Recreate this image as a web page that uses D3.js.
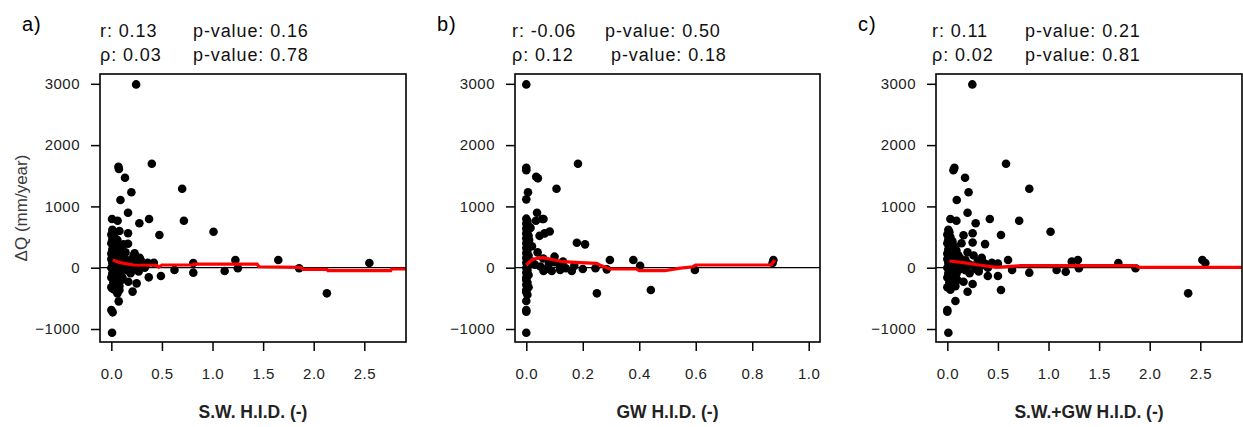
<!DOCTYPE html>
<html>
<head>
<meta charset="utf-8">
<script src="https://cdn.jsdelivr.net/npm/d3@7"></script>
<style>
body { margin: 0; background: #fff; }
svg { font-family: "Liberation Sans", Arial, sans-serif; }
.tick text { font-size: 15px; fill: #222; letter-spacing: 0.5px; }
</style>
</head>
<body>
<div class="chart"></div>
<script>
const dqTicks = [-1000, 0, 1000, 2000, 3000];
const swTicks = [0, 0.5, 1, 1.5, 2, 2.5];
const gwTicks = [0, 0.2, 0.4, 0.6, 0.8, 1];
const panelLabels = ['a)', 'b)', 'c)'];
const xTitles = ['S.W. H.I.D. (-)', 'GW H.I.D. (-)', 'S.W.+GW H.I.D. (-)'];
const statR = ['r: 0.13', 'r: -0.06', 'r: 0.11'];
const statRho = ['\u03c1: 0.03', '\u03c1: 0.12', '\u03c1: 0.02'];
const pvalR = ['p-value: 0.16', 'p-value: 0.50', 'p-value: 0.21'];
const pvalRho = ['p-value: 0.78', 'p-value: 0.18', 'p-value: 0.81'];
const yTitle = '\u0394Q (mm/year)';

// [H.I.D., dQ]
const pointsA = [
    [0.245, 2990], [0.40, 1697], [0.07, 1648], [0.075, 1610], [0.135, 1468], [0.198, 1230], [0.09, 1104],
    [0.70, 1289], [0.717, 767], [1.01, 587], [0.165, 897], [0.373, 794], [0.277, 724], [0.475, 533],
    [0.007, 794], [0.062, 767], [0.165, 561], [0.165, 392], [1.226, 126], [1.65, 126], [2.55, 77],
    [0.81, 77], [0.81, -81], [1.12, -54], [1.25, -10], [1.856, -10], [2.13, -418], [0.624, -38],
    [0.49, -135], [0.42, 82], [0.37, -157], [0.21, -390], [0.25, -255], [0.168, -228], [0.073, -549],
    [0.0, -690], [0.013, -728], [0.007, -1060], [0.08, -364], [0.01, -337],
    [0.01, 620], [0.02, 580], [0.0, 540], [0.03, 500], [0.01, 460], [0.05, 430], [0.0, 400], [0.02, 360],
    [0.04, 330], [0.01, 300], [0.03, 260], [0.0, 230], [0.05, 200], [0.02, 170], [0.0, 140], [0.04, 110],
    [0.01, 80], [0.06, 60], [0.03, 30], [0.0, 0], [0.05, -20], [0.02, -50], [0.01, -90], [0.04, -120],
    [0.0, -160], [0.03, -200], [0.02, -240], [0.05, -280], [0.0, -320], [0.03, -360], [0.08, -300],
    [0.1, -200], [0.09, -100], [0.12, -30], [0.08, 20], [0.1, 100], [0.13, 150], [0.11, 200], [0.09, 280],
    [0.07, 350], [0.06, 450], [0.08, 600], [0.15, 60], [0.18, 120], [0.2, 50], [0.22, 200], [0.25, 100],
    [0.28, 160], [0.3, 30], [0.16, -40], [0.19, -90], [0.24, -20], [0.27, -60], [0.33, 0], [0.36, 80],
    [0.14, 250], [0.12, 380], [0.23, 235], [0.29, 126], [0.06, -420], [0.11, -160]
];
const pointsB = [
    [0.0, 2990], [0.183, 1697], [0.0, 1630], [0.0, 1590], [0.035, 1485], [0.041, 1458], [0.006, 1230],
    [0.0, 1115], [0.107, 1289], [0.038, 897], [0.061, 794], [0.034, 767], [0.047, 520], [0.065, 560],
    [0.083, 590], [0.179, 408], [0.208, 381], [0.1, 180], [0.296, 126], [0.379, 126], [0.403, 33],
    [0.25, -418], [0.441, -364], [0.597, -38], [0.875, 126], [0.872, 77], [0.285, -27], [0.245, -10],
    [0.161, -54], [0.12, -38], [0.09, -54], [0.061, -54], [0.0, -1060], [0.0, -717], [0.0, -690],
    [0.0, -543], [0.0, -364], [0.0, -200],
    [0.0, 800], [0.004, 760], [0.0, 720], [0.008, 680], [0.0, 640], [0.004, 600], [0.0, 560], [0.008, 520],
    [0.0, 480], [0.004, 440], [0.0, 400], [0.008, 360], [0.0, 320], [0.004, 280], [0.0, 240], [0.008, 200],
    [0.0, 160], [0.004, 120], [0.0, 80], [0.008, 40], [0.0, 0], [0.004, -40], [0.0, -80], [0.008, -120],
    [0.0, -160], [0.004, -240], [0.0, -280], [0.008, -320], [0.0, -400], [0.004, -440],
    [0.02, 100], [0.03, 50], [0.05, 20], [0.07, -20], [0.08, 60], [0.12, 20], [0.14, -10], [0.06, 150],
    [0.04, 250], [0.02, 350], [0.01, 450], [0.015, 650], [0.17, 30], [0.2, -20], [0.1, 90], [0.13, 100],
    [0.057, 794]
];
const pointsC = [
    [0.247, 2990], [0.58, 1697], [0.07, 1630], [0.06, 1590], [0.175, 1468], [0.21, 1230], [0.093, 1104],
    [0.81, 1289], [0.71, 767], [1.02, 587], [0.2, 897], [0.42, 794], [0.03, 794], [0.09, 767], [0.28, 724],
    [0.53, 533], [0.25, 561], [0.16, 530], [0.25, 410], [0.373, 385], [0.14, 400], [0.6, 126], [1.23, 100],
    [1.29, 126], [1.69, 77], [2.52, 126], [2.55, 77], [2.38, -418], [0.53, -364], [0.25, -265], [0.2, -392],
    [0.16, -228], [0.08, -543], [0.0, -717], [0.0, -690], [0.01, -1060], [0.64, -38], [0.81, -81],
    [1.08, -38], [1.17, -65], [1.3, -10], [1.86, -10], [0.5, -135], [0.4, -135], [0.37, 66], [0.5, 66],
    [0.01, 620], [0.02, 580], [0.0, 540], [0.03, 500], [0.01, 460], [0.05, 430], [0.0, 400], [0.02, 360],
    [0.04, 330], [0.01, 300], [0.03, 260], [0.0, 230], [0.05, 200], [0.02, 170], [0.0, 140], [0.04, 110],
    [0.01, 80], [0.06, 60], [0.03, 30], [0.0, 0], [0.05, -20], [0.02, -50], [0.01, -90], [0.04, -120],
    [0.0, -160], [0.03, -200], [0.02, -240], [0.05, -280], [0.0, -320], [0.03, -360], [0.08, -300],
    [0.1, -200], [0.09, -100], [0.12, -30], [0.08, 20], [0.1, 100], [0.13, 150], [0.11, 200], [0.09, 280],
    [0.07, 350], [0.15, 60], [0.18, 120], [0.22, 50], [0.26, 200], [0.3, 100], [0.34, 160], [0.33, 30],
    [0.18, -40], [0.22, -90], [0.28, -20], [0.31, -60], [0.4, 0], [0.44, 80], [0.2, 250], [0.27, 20]
];

// smoothed trend (red)
const smoothA = [[0.016, 126], [0.086, 82], [0.22, 44], [0.45, 40], [0.47, 10], [0.5, 44], [0.81, 44],
    [0.82, 60], [1.44, 60], [1.46, 16], [1.87, 6], [1.9, -27], [2.13, -27], [2.14, -49], [2.76, -49],
    [2.77, -21], [2.93, -21]];
const smoothB = [[0.0, 44], [0.019, 126], [0.037, 153], [0.06, 163], [0.10, 126], [0.13, 98], [0.19, 82],
    [0.249, 71], [0.26, 44], [0.296, -21], [0.39, -21], [0.40, -49], [0.49, -49], [0.54, -10], [0.59, 16],
    [0.60, 44], [0.867, 44], [0.88, 126]];
const smoothC = [[0.02, 109], [0.16, 82], [0.31, 44], [0.49, 6], [0.72, 33], [1.86, 33], [1.89, 6], [2.93, 6]];

const _width = 1243, _height = 427;
const top_y = 74, bottom_y = 342;

let panels = [
    {left: 100, right: 406, xdom: [-0.112, 2.912], ticks: swTicks, pts: pointsA, smooth: smoothA, pr: 93, prho: 93, rx: 0},
    {left: 515, right: 820, xdom: [-0.04, 1.04], ticks: gwTicks, pts: pointsB, smooth: smoothB, pr: 90, prho: 96, rx: -3},
    {left: 936, right: 1242, xdom: [-0.112, 2.912], ticks: swTicks, pts: pointsC, smooth: smoothC, pr: 89, prho: 89, rx: -4}
];

let svg = d3.select('.chart')
    .append('svg')
    .attr('width', _width)
    .attr('height', _height);

let y = d3.scaleLinear().domain([-1212, 3160]).range([bottom_y, top_y]);

panels.forEach((p, i) => {
    let x = d3.scaleLinear().domain(p.xdom).range([p.left, p.right]);
    let g = svg.append('g');

    g.append('clipPath').attr('id', 'clip' + i)
        .append('rect')
        .attr('x', p.left).attr('y', top_y)
        .attr('width', p.right - p.left).attr('height', bottom_y - top_y);

    let plot = g.append('g').attr('clip-path', 'url(#clip' + i + ')');

    plot.selectAll('circle')
        .data(p.pts)
        .enter().append('circle')
        .attr('cx', d => x(d[0]))
        .attr('cy', d => y(d[1]))
        .attr('r', 4.3)
        .style('fill', '#000');

    plot.append('line')
        .attr('x1', p.left).attr('x2', p.right)
        .attr('y1', y(0)).attr('y2', y(0))
        .attr('stroke', '#000')
        .attr('stroke-width', 1.2);

    plot.append('path')
        .datum(p.smooth)
        .attr('d', d3.line().x(d => x(d[0])).y(d => y(d[1])))
        .attr('fill', 'none')
        .attr('stroke', '#ff0000')
        .attr('stroke-width', 3.2);

    // axes
    let xa = g.append('g')
        .attr('transform', 'translate(0,' + bottom_y + ')')
        .call(d3.axisBottom(x).tickValues(p.ticks).tickFormat(d3.format('.1f')).tickSize(9).tickPadding(17));
    let ya = g.append('g')
        .attr('transform', 'translate(' + p.left + ',0)')
        .call(d3.axisLeft(y).tickValues(dqTicks).tickFormat(d3.format('d')).tickSize(9).tickPadding(11));
    [xa, ya].forEach(a => {
        a.select('.domain').remove();
        a.selectAll('.tick line').attr('stroke', '#000').attr('stroke-width', 1.5);
    });

    g.append('rect')
        .attr('x', p.left).attr('y', top_y)
        .attr('width', p.right - p.left).attr('height', bottom_y - top_y)
        .attr('fill', 'none')
        .attr('stroke', '#000')
        .attr('stroke-width', 1.6);

    // headers
    g.append('text')
        .attr('x', p.left - 78).attr('y', 31)
        .style('font-size', '20px').style('letter-spacing', '1px')
        .text(panelLabels[i]);
    let stat = (tx, ty, s) => g.append('text')
        .attr('x', tx).attr('y', ty)
        .style('font-size', '18px').style('letter-spacing', '0.9px').style('fill', '#111')
        .text(s);
    stat(p.left + p.rx, 37, statR[i]);
    stat(p.left + p.pr, 37, pvalR[i]);
    stat(p.left + p.rx, 61, statRho[i]);
    stat(p.left + p.prho, 61, pvalRho[i]);

    g.append('text')
        .attr('x', (p.left + p.right) / 2).attr('y', 418)
        .attr('text-anchor', 'middle')
        .style('font-size', '17.5px').style('font-weight', 'bold').style('fill', '#222')
        .text(xTitles[i]);
});

svg.append('text')
    .attr('transform', 'translate(27,' + (top_y + bottom_y) / 2 + ') rotate(-90)')
    .attr('text-anchor', 'middle')
    .style('font-size', '17px').style('fill', '#3a3a3a')
    .text(yTitle);
</script>
</body>
</html>
